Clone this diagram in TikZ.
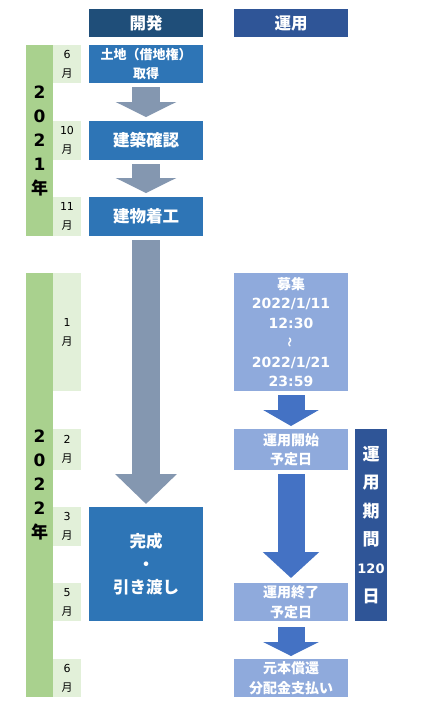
\documentclass[tikz,border=0pt]{standalone}
\usepackage{fontspec}
\setmainfont{Noto Sans CJK JP}
\newfontfamily\dvfont{DejaVu Sans}
\newcommand{\dg}[1]{{\dvfont #1}}
\usetikzlibrary{arrows.meta,positioning}

\definecolor{devhead}{HTML}{1F4E79}
\definecolor{opshead}{HTML}{2F5597}
\definecolor{devfill}{HTML}{2E75B6}
\definecolor{opsfill}{HTML}{8FAADC}
\definecolor{devarrow}{HTML}{8497B0}
\definecolor{opsarrow}{HTML}{4472C4}
\definecolor{yeargreen}{HTML}{A9D18E}
\definecolor{monthgreen}{HTML}{E2F0D9}

\tikzset{
  cell/.style={anchor=north west, inner sep=0pt, outer sep=0pt, align=center},
  headbox/.style={cell, fill=#1, text=white, minimum width=114pt, minimum height=28pt,
    font=\fontsize{16.5}{18}\selectfont\bfseries},
  devbox/.style={cell, fill=devfill, text=white, minimum width=114pt, minimum height=#1,
    font=\fontsize{16.5}{23}\selectfont\bfseries},
  opsbox/.style={cell, fill=opsfill, text=white, minimum width=114pt, minimum height=#1,
    font=\fontsize{14}{19.5}\selectfont\bfseries},
  monthcell/.style={cell, anchor=east, fill=monthgreen, minimum width=28pt, minimum height=#1,
    font=\fontsize{11}{19}\selectfont},
  yearbar/.style={cell, fill=yeargreen, minimum width=27pt, minimum height=#1,
    font=\fontsize{17}{24}\selectfont\bfseries},
  devflow/.style={draw=devarrow, line width=28pt, -{Triangle[width=60pt, length=#1]}},
  opsflow/.style={draw=opsarrow, line width=27pt, -{Triangle[width=55pt, length=#1]}}
}

\begin{document}
\begin{tikzpicture}[x=1pt, y=-1pt]
  \useasboundingbox[fill=white] (0,0) rectangle (432,721);

  % headers
  \node[headbox=devhead] (hdev) at (89,9) {開発};
  \node[headbox=opshead] (hops) at (234,9) {運用};

  % development column
  \node[devbox=38pt, font=\fontsize{13}{19}\selectfont\bfseries] (land) at (89,45) {土地（借地権）\\取得};
  \node[devbox=39pt] (permit) at (89,121) {建築確認};
  \node[devbox=39pt] (start) at (89,197) {建物着工};
  \node[devbox=114pt] (done) at (89,507) {完成\\・\\引き渡し};

  % operation column
  \node[opsbox=118pt] (offer) at (234,273) {募集\\\dg{2022/1/11}\\\dg{12:30}\\
    \rotatebox{90}{\fontsize{10}{10}\selectfont ～}\\\dg{2022/1/21}\\\dg{23:59}};
  \node[opsbox=41pt] (opbegin) at (234,429) {運用開始\\予定日};
  \node[opsbox=38pt] (opend) at (234,583) {運用終了\\予定日};
  \node[opsbox=38pt] (repay) at (234,659) {元本償還\\分配金支払い};
  \node[cell, fill=opshead, text=white, minimum width=32pt, minimum height=192pt,
    font=\fontsize{17}{28.4}\selectfont\bfseries] (period) at (355,429)
    {運\\用\\期\\間\\{\dvfont\bfseries\fontsize{13}{13}\selectfont 120}\\日};

  % years
  \node[yearbar=191pt] (y2021) at (26,45) {\dg{2}\\\dg{0}\\\dg{2}\\\dg{1}\\年};
  \node[yearbar=424pt] (y2022) at (26,273) {\dg{2}\\\dg{0}\\\dg{2}\\\dg{2}\\年};

  % months
  \node[monthcell=38pt, left=8pt of land] (m6a) {\dg{6}\\月};
  \node[monthcell=39pt, left=8pt of permit] (m10) {\dg{10}\\月};
  \node[monthcell=39pt, left=8pt of start] (m11) {\dg{11}\\月};
  \node[monthcell=118pt, left=8pt of offer.west -| done.west] (m1) {\dg{1}\\月};
  \node[monthcell=41pt, left=8pt of opbegin.west -| done.west] (m2) {\dg{2}\\月};
  \node[monthcell=39pt, left=8pt of done.north west, anchor=north east] (m3) {\dg{3}\\月};
  \node[monthcell=38pt, left=8pt of opend.west -| done.west] (m5) {\dg{5}\\月};
  \node[monthcell=38pt, left=8pt of repay.west -| done.west] (m6b) {\dg{6}\\月};

  % flow arrows
  \draw[devflow=15pt] ([yshift=-4pt]land.south) -- ([yshift=4pt]permit.north);
  \draw[devflow=15pt] ([yshift=-4pt]permit.south) -- ([yshift=4pt]start.north);
  \draw[devflow=30pt] ([yshift=-4pt]start.south) -- ([yshift=3pt]done.north);
  \draw[opsflow=16pt] ([yshift=-4pt]offer.south) -- ([yshift=3pt]opbegin.north);
  \draw[opsflow=26pt] ([yshift=-4pt]opbegin.south) -- ([yshift=5pt]opend.north);
  \draw[opsflow=14pt] ([yshift=-6pt]opend.south) -- ([yshift=3pt]repay.north);
\end{tikzpicture}
\end{document}
